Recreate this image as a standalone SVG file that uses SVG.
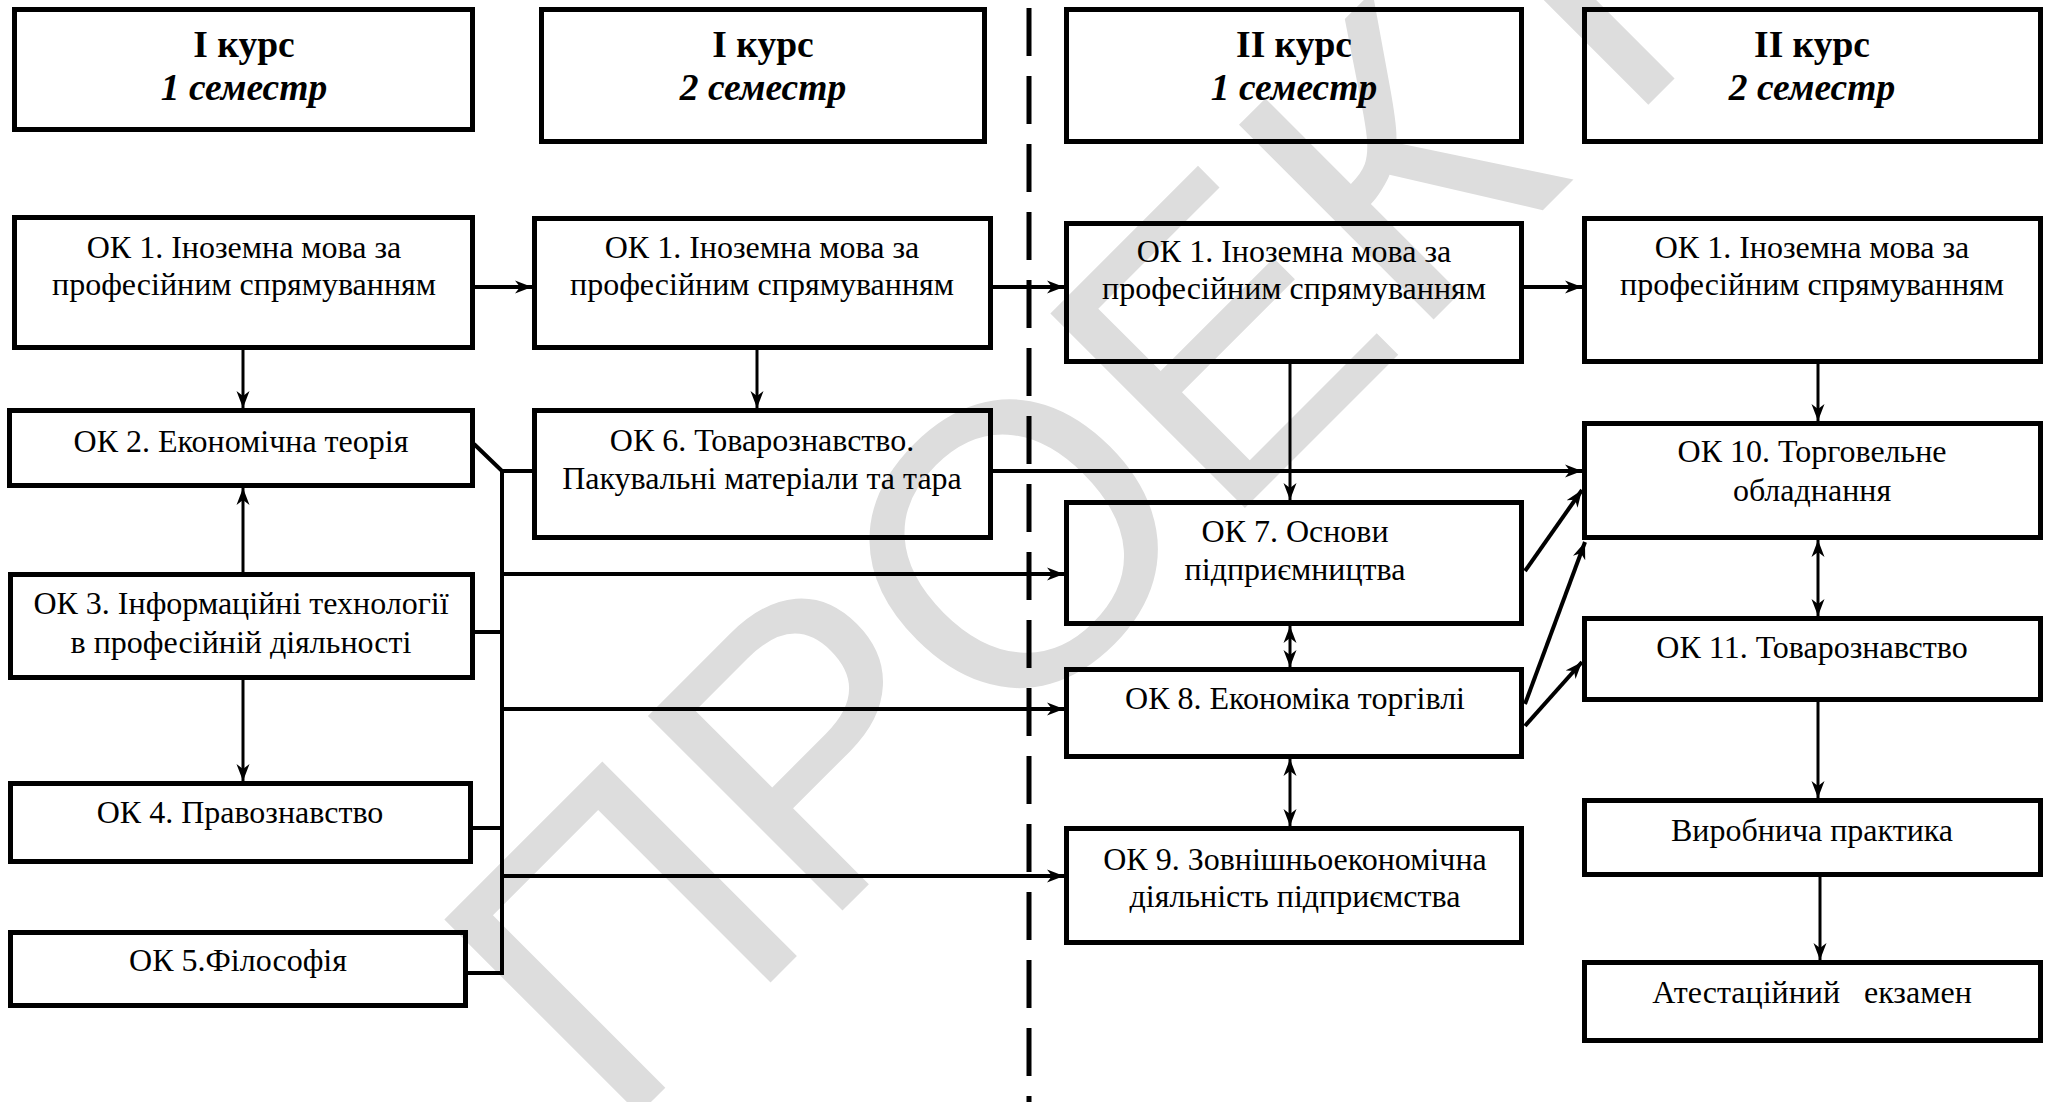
<svg xmlns="http://www.w3.org/2000/svg" width="2049" height="1102" viewBox="0 0 2049 1102">
<style>
.box{fill:none;stroke:#000;stroke-width:5}
.t{font-family:"Liberation Serif","Times New Roman",serif;font-size:32px;fill:#000;text-anchor:middle}
.h{font-family:"Liberation Serif","Times New Roman",serif;font-size:37.5px;font-weight:bold;fill:#000;text-anchor:middle}
.hi{font-style:italic}
.thick{stroke:#000;stroke-width:4;fill:none}
.thin{stroke:#000;stroke-width:3;fill:none}
.arr{marker-end:url(#ah)}
.dbl{marker-start:url(#ah);marker-end:url(#ah)}
.wm{font-family:"Liberation Sans",Arial,sans-serif;font-size:400px;fill:#dddddd}
</style>
<defs>
<marker id="ah" markerUnits="userSpaceOnUse" markerWidth="18" markerHeight="14" refX="17" refY="7" orient="auto-start-reverse" viewBox="0 0 18 14">
<path d="M0,0.5 L17,7 L0,13.5 L5,7 Z" fill="#000"/>
</marker>
</defs>
<rect x="0" y="0" width="2049" height="1102" fill="#fff"/>
<g id="watermark">
<text class="wm" transform="translate(616,1137) rotate(-45)">ПРОЕКТ</text>
</g>
<g id="divider">
<line x1="1029" y1="8" x2="1029" y2="1102" stroke="#000" stroke-width="5" stroke-dasharray="48 20"/>
</g>
<g id="connectors">
<line class="thick arr" x1="475" y1="287" x2="532" y2="287"/>
<line class="thick arr" x1="993" y1="287" x2="1064" y2="287"/>
<line class="thick arr" x1="1524" y1="287" x2="1582" y2="287"/>
<line class="thin arr" x1="243" y1="350" x2="243" y2="408"/>
<line class="thin arr" x1="757" y1="350" x2="757" y2="408"/>
<line class="thin arr" x1="243" y1="572" x2="243" y2="488"/>
<line class="thin arr" x1="243" y1="680" x2="243" y2="781"/>
<polyline class="thick" points="474,444 502,471 532,471"/>
<line class="thick" x1="502" y1="469" x2="502" y2="975"/>
<line class="thick" x1="475" y1="632" x2="502" y2="632"/>
<line class="thick" x1="473" y1="828" x2="502" y2="828"/>
<line class="thick" x1="468" y1="973" x2="504" y2="973"/>
<line class="thick arr" x1="502" y1="574" x2="1064" y2="574"/>
<line class="thick arr" x1="502" y1="709" x2="1064" y2="709"/>
<line class="thick arr" x1="502" y1="876" x2="1064" y2="876"/>
<line class="thick arr" x1="993" y1="471" x2="1582" y2="471"/>
<line class="thin arr" x1="1290" y1="364" x2="1290" y2="500"/>
<line class="thin dbl" x1="1290" y1="626" x2="1290" y2="667"/>
<line class="thin dbl" x1="1290" y1="759" x2="1290" y2="826"/>
<line class="thin arr" x1="1818" y1="364" x2="1818" y2="421"/>
<line class="thin dbl" x1="1818" y1="540" x2="1818" y2="616"/>
<line class="thin arr" x1="1818" y1="702" x2="1818" y2="798"/>
<line class="thin arr" x1="1820" y1="877" x2="1820" y2="960"/>
<line class="thick arr" x1="1525" y1="571" x2="1582" y2="490"/>
<line class="thick arr" x1="1525" y1="704" x2="1585" y2="542"/>
<line class="thick arr" x1="1525" y1="726" x2="1582" y2="662"/>
</g>
<g id="h1">
<rect class="box" x="14.5" y="9.5" width="458" height="120"/>
<text class="h" x="244" y="57">І курс</text>
<text class="h hi" x="244" y="100">1 семестр</text>
</g>
<g id="h2">
<rect class="box" x="541.5" y="9.5" width="443" height="132"/>
<text class="h" x="763" y="57">І курс</text>
<text class="h hi" x="763" y="100">2 семестр</text>
</g>
<g id="h3">
<rect class="box" x="1066.5" y="9.5" width="455" height="132"/>
<text class="h" x="1294" y="57">ІІ курс</text>
<text class="h hi" x="1294" y="100">1 семестр</text>
</g>
<g id="h4">
<rect class="box" x="1584.5" y="9.5" width="456" height="132"/>
<text class="h" x="1812" y="57">ІІ курс</text>
<text class="h hi" x="1812" y="100">2 семестр</text>
</g>
<g id="ok1a">
<rect class="box" x="14.5" y="217.5" width="458" height="130"/>
<text class="t" x="244" y="258">ОК 1. Іноземна мова за</text>
<text class="t" x="244" y="295">професійним спрямуванням</text>
</g>
<g id="ok1b">
<rect class="box" x="534.5" y="218.5" width="456" height="129"/>
<text class="t" x="762" y="258">ОК 1. Іноземна мова за</text>
<text class="t" x="762" y="295">професійним спрямуванням</text>
</g>
<g id="ok1c">
<rect class="box" x="1066.5" y="223.5" width="455" height="138"/>
<text class="t" x="1294" y="262">ОК 1. Іноземна мова за</text>
<text class="t" x="1294" y="299">професійним спрямуванням</text>
</g>
<g id="ok1d">
<rect class="box" x="1584.5" y="218.5" width="456" height="143"/>
<text class="t" x="1812" y="258">ОК 1. Іноземна мова за</text>
<text class="t" x="1812" y="295">професійним спрямуванням</text>
</g>
<g id="ok2">
<rect class="box" x="9.5" y="410.5" width="463" height="75"/>
<text class="t" x="241" y="452">ОК 2. Економічна теорія</text>
</g>
<g id="ok6">
<rect class="box" x="534.5" y="410.5" width="456" height="127"/>
<text class="t" x="762" y="451">ОК 6. Товарознавство.</text>
<text class="t" x="762" y="489">Пакувальні матеріали та тара</text>
</g>
<g id="ok3">
<rect class="box" x="10.5" y="574.5" width="462" height="103"/>
<text class="t" x="241" y="614">ОК 3. Інформаційні технології</text>
<text class="t" x="241" y="653">в професійній діяльності</text>
</g>
<g id="ok4">
<rect class="box" x="10.5" y="783.5" width="460" height="78"/>
<text class="t" x="240" y="823">ОК 4. Правознавство</text>
</g>
<g id="ok5">
<rect class="box" x="10.5" y="932.5" width="455" height="73"/>
<text class="t" x="238" y="971">ОК 5.Філософія</text>
</g>
<g id="ok7">
<rect class="box" x="1066.5" y="502.5" width="455" height="121"/>
<text class="t" x="1295" y="542">ОК 7. Основи</text>
<text class="t" x="1295" y="580">підприємництва</text>
</g>
<g id="ok8">
<rect class="box" x="1066.5" y="669.5" width="455" height="87"/>
<text class="t" x="1295" y="709">ОК 8. Економіка торгівлі</text>
</g>
<g id="ok9">
<rect class="box" x="1066.5" y="828.5" width="455" height="114"/>
<text class="t" x="1295" y="870">ОК 9. Зовнішньоекономічна</text>
<text class="t" x="1295" y="907">діяльність підприємства</text>
</g>
<g id="ok10">
<rect class="box" x="1584.5" y="423.5" width="456" height="114"/>
<text class="t" x="1812" y="462">ОК 10. Торговельне</text>
<text class="t" x="1812" y="501">обладнання</text>
</g>
<g id="ok11">
<rect class="box" x="1584.5" y="618.5" width="456" height="81"/>
<text class="t" x="1812" y="658">ОК 11. Товарознавство</text>
</g>
<g id="practice">
<rect class="box" x="1584.5" y="800.5" width="456" height="74"/>
<text class="t" x="1812" y="841">Виробнича практика</text>
</g>
<g id="exam">
<rect class="box" x="1584.5" y="962.5" width="456" height="78"/>
<text class="t" x="1812" y="1003" xml:space="preserve" style="white-space:pre">Атестаційний   екзамен</text>
</g>
</svg>
